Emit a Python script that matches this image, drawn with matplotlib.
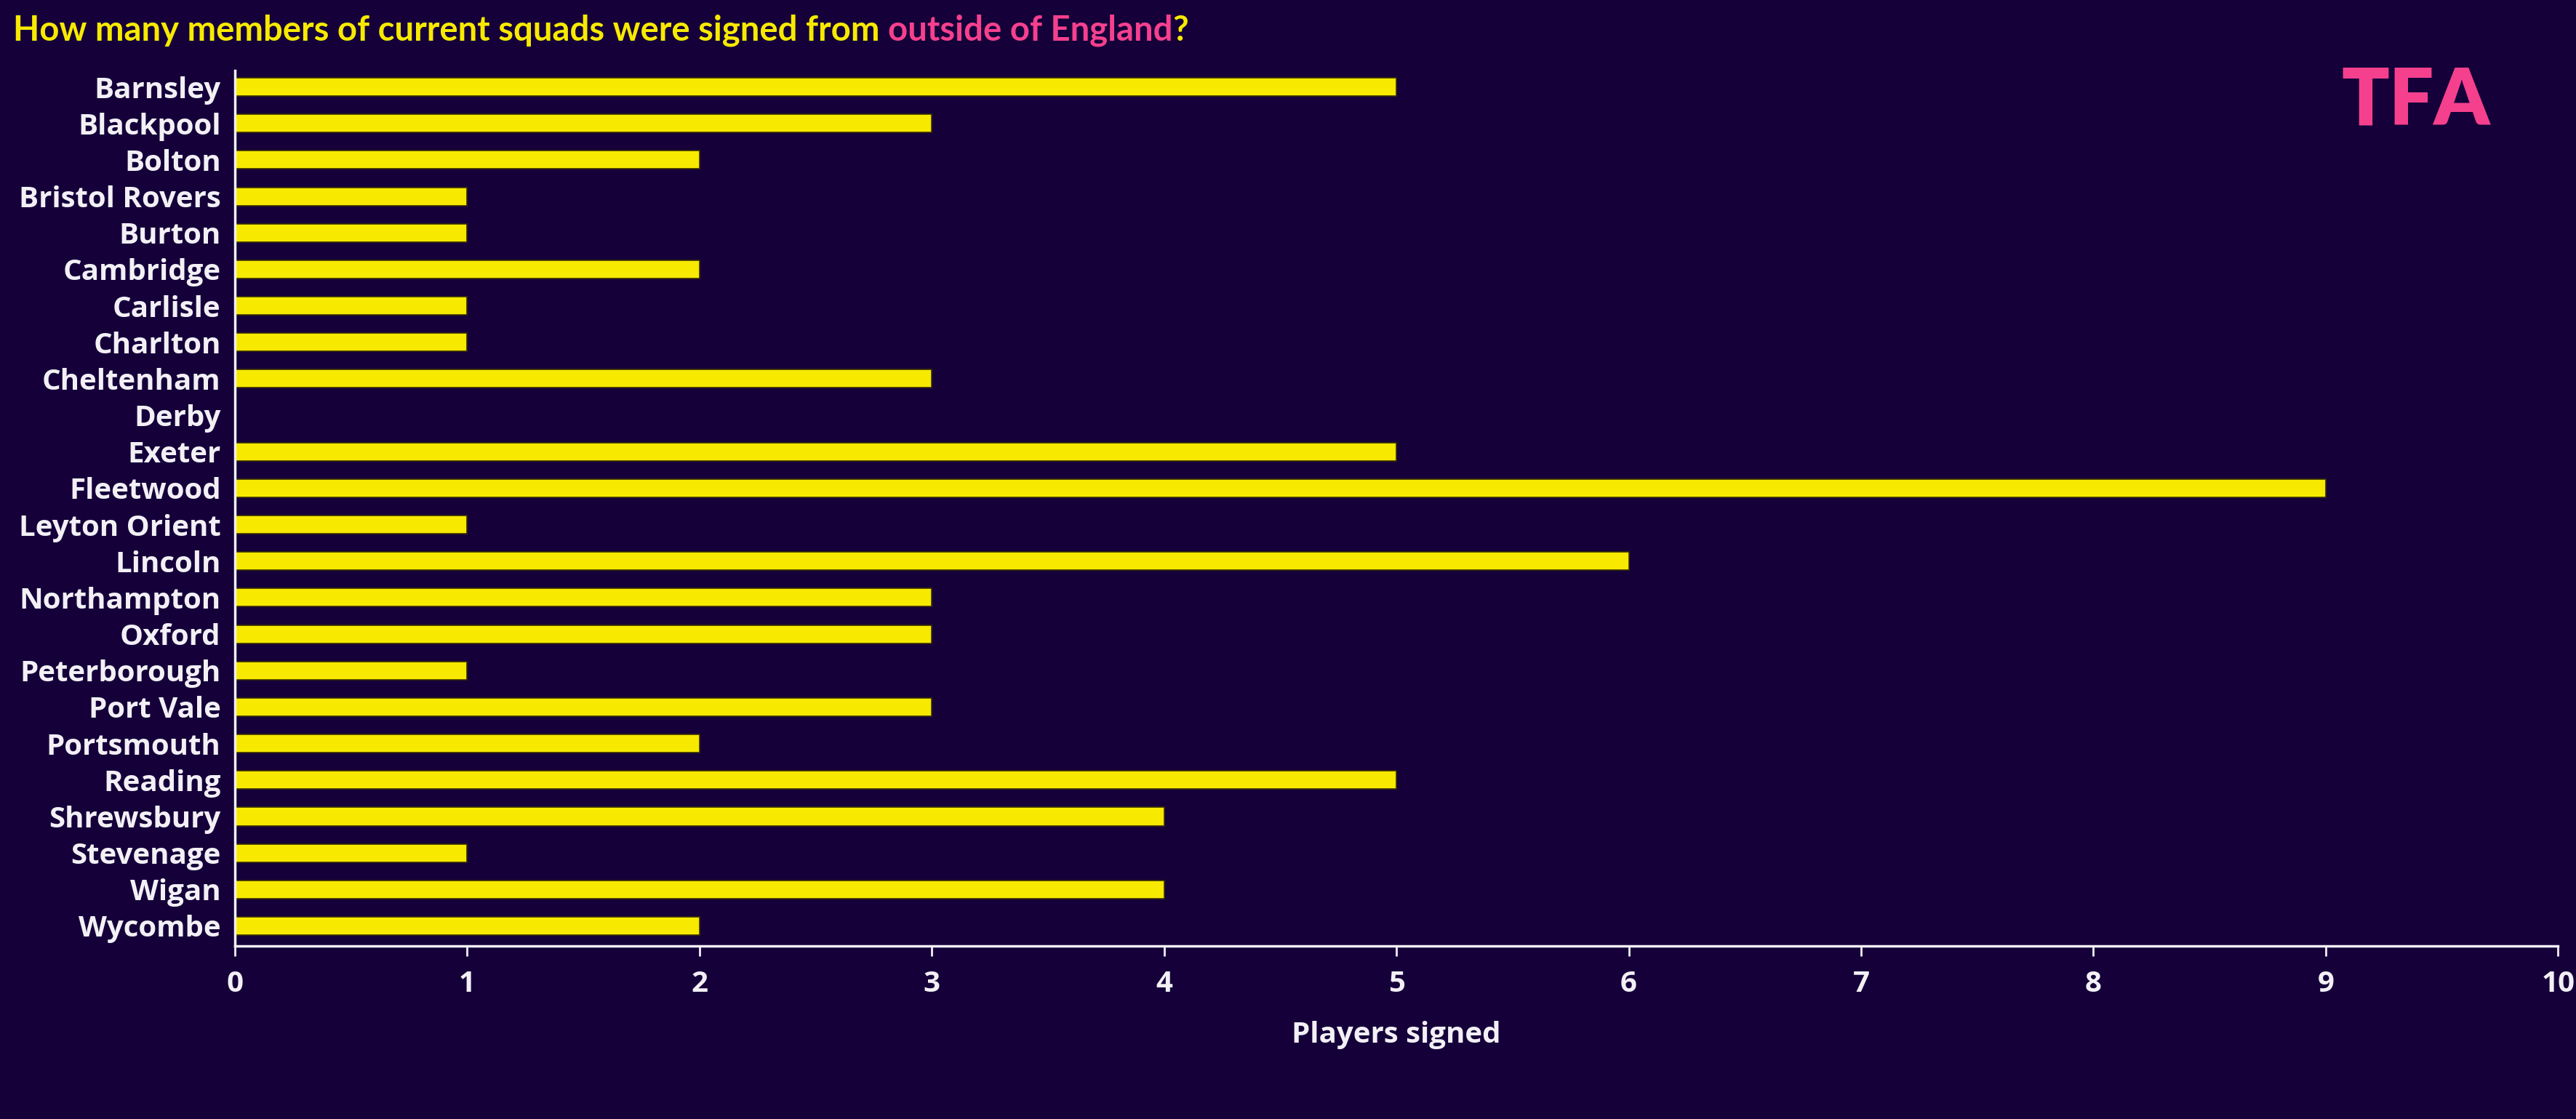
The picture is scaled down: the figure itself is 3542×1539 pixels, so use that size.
import matplotlib
matplotlib.use("Agg")
import matplotlib.pyplot as plt

# clubs and number of players signed from outside England
clubs = ["Barnsley", "Blackpool", "Bolton", "Bristol Rovers", "Burton", "Cambridge",
         "Carlisle", "Charlton", "Cheltenham", "Derby", "Exeter", "Fleetwood",
         "Leyton Orient", "Lincoln", "Northampton", "Oxford", "Peterborough",
         "Port Vale", "Portsmouth", "Reading", "Shrewsbury", "Stevenage", "Wigan", "Wycombe"]
signed = [5, 3, 2, 1, 1, 2, 1, 1, 3, 0, 5, 9, 1, 6, 3, 3, 1, 3, 2, 5, 4, 1, 4, 2]
x_ticks = [0, 1, 2, 3, 4, 5, 6, 7, 8, 9, 10]

bg = "#15003a"
yellow = "#f7ea00"
pink = "#f5408e"
white = "#f2f0f5"

plt.rcParams["font.family"] = ["Open Sans", "DejaVu Sans"]

fig = plt.figure(figsize=(35.42, 15.39), dpi=100, facecolor=bg)
ax = fig.add_axes([0.0912, 0.1546, 0.9018, 0.7824], facecolor=bg)

ypos = list(range(len(clubs)))
ax.barh(ypos, signed, height=0.5, color=yellow, edgecolor="#3a3000", linewidth=1.2)

ax.set_xlim(0, 10)
ax.set_ylim(23.55, -0.45)
ax.set_yticks(ypos)
ax.set_yticklabels(clubs, fontsize=29, fontweight="bold", color=white)
ax.set_xticks(x_ticks)
ax.set_xticklabels([str(t) for t in x_ticks], fontsize=29, fontweight="bold", color=white)
ax.tick_params(axis="y", length=0, pad=14)
ax.tick_params(axis="x", length=10, width=2, color=white, pad=14)

for s in ["top", "right"]:
    ax.spines[s].set_visible(False)
for s in ["left", "bottom"]:
    ax.spines[s].set_color(white)
    ax.spines[s].set_linewidth(2.5)

ax.set_xlabel("Players signed", fontsize=29, fontweight="bold", color=white, labelpad=22)

# title in two colours
fig.canvas.draw()
r = fig.canvas.get_renderer()
parts = [("How many members of current squads were signed from ", yellow),
         ("outside of England", pink),
         ("?", yellow)]
x0 = 18 / 3542
for txt, col in parts:
    t = fig.text(x0, 1 - 42 / 1539, txt, color=col, fontsize=34, fontweight="bold",
                 family=["Lato", "DejaVu Sans"], va="center", ha="left")
    bb = t.get_window_extent(renderer=r)
    x0 = bb.x1 / fig.bbox.width

# logo
fig.text(3322 / 3542, 1 - 140 / 1539, "TFA", color=pink, fontsize=78, fontweight="heavy",
         family=["Lato", "DejaVu Sans"], ha="center", va="center")

fig.savefig("out.png", dpi=100, facecolor=bg)
